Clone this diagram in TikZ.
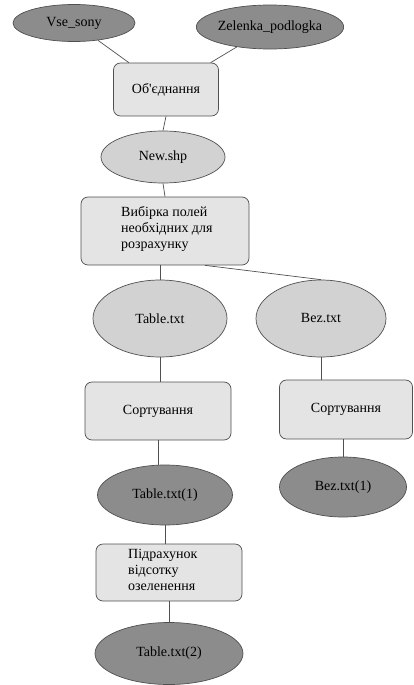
\documentclass[tikz,border=0pt]{standalone}
\usepackage{fontspec}
\setmainfont{Liberation Serif}[Ligatures=TeXOff]
\usetikzlibrary{shapes.geometric}
\definecolor{darkell}{HTML}{8C8C8C}
\definecolor{lightell}{HTML}{D2D2D2}
\definecolor{boxfill}{HTML}{E4E4E4}
\definecolor{edge}{HTML}{505050}
\tikzset{
  lbl/.style={font=\fontsize{14}{16}\selectfont},
  darkn/.style={ellipse, draw=edge, fill=darkell, line width=0.7pt, inner sep=0pt, lbl},
  lightn/.style={ellipse, draw=edge, fill=lightell, line width=0.7pt, inner sep=0pt, lbl},
  procbox/.style={rectangle, rounded corners=7pt, draw=edge, fill=boxfill, line width=0.7pt, inner sep=0pt, lbl},
  link/.style={draw=edge, line width=0.7pt}
}
\begin{document}
\begin{tikzpicture}[x=1pt,y=-1pt]
\useasboundingbox (0,0) rectangle (413,685);
\node[darkn, minimum width=122, minimum height=37] (vse) at (74,23) {Vse\_sony};
\node[darkn, minimum width=126, minimum height=44] (zel) at (270,27) {Zelenka\_podlogka};
\node[procbox, minimum width=105, minimum height=53] (ob) at (166,89.5) {Об'єднання};
\node[lightn, minimum width=124, minimum height=52] (new) at (163,157) {New.shp};
\node[procbox, minimum width=168, minimum height=68] (vyb) at (165,231) {};
\node[anchor=north west, align=left, inner sep=0pt, lbl] (vybt) at (121,206) {Вибірка полей\\необхідних для\\розрахунку};
\node[lightn, minimum width=134, minimum height=77] (tab) at (160,318.5) {Table.txt};
\node[lightn, minimum width=130, minimum height=77] (bez) at (321,318.5) {Bez.txt};
\node[procbox, minimum width=146, minimum height=58] (sl) at (158,411) {Сортування};
\node[procbox, minimum width=133, minimum height=59] (sr) at (346,409.5) {Сортування};
\node[darkn, minimum width=135, minimum height=60] (tab1) at (165,495) {Table.txt(1)};
\node[darkn, minimum width=127, minimum height=60] (bez1) at (343,487) {Bez.txt(1)};
\node[procbox, minimum width=146, minimum height=57] (pid) at (169,572.5) {};
\node[anchor=north west, align=left, inner sep=0pt, lbl] (pidt) at (128,549) {Підрахунок\\відсотку\\озеленення};
\node[darkn, minimum width=148, minimum height=62] (tab2) at (169,653.5) {Table.txt(2)};
\draw[link] (vse) -- (ob);
\draw[link] (zel) -- (ob);
\draw[link] (ob.south) -- (new.north);
\draw[link] (new.south) -- (vyb.north);
\draw[link] (vyb.south -| tab.north) -- (tab.north);
\draw[link] ([xshift=40]vyb.south) -- (bez.north);
\draw[link] (tab.south) -- (tab.south |- sl.north);
\draw[link] (bez.south) -- (bez.south |- sr.north);
\draw[link] (sl.south) -- (sl.south |- tab1.north);
\draw[link] (bez1.north |- sr.south) -- (bez1.north);
\draw[link] (tab1.south) -- (tab1.south |- pid.north);
\draw[link] (pid.south) -- (tab2.north);
\end{tikzpicture}
\end{document}
